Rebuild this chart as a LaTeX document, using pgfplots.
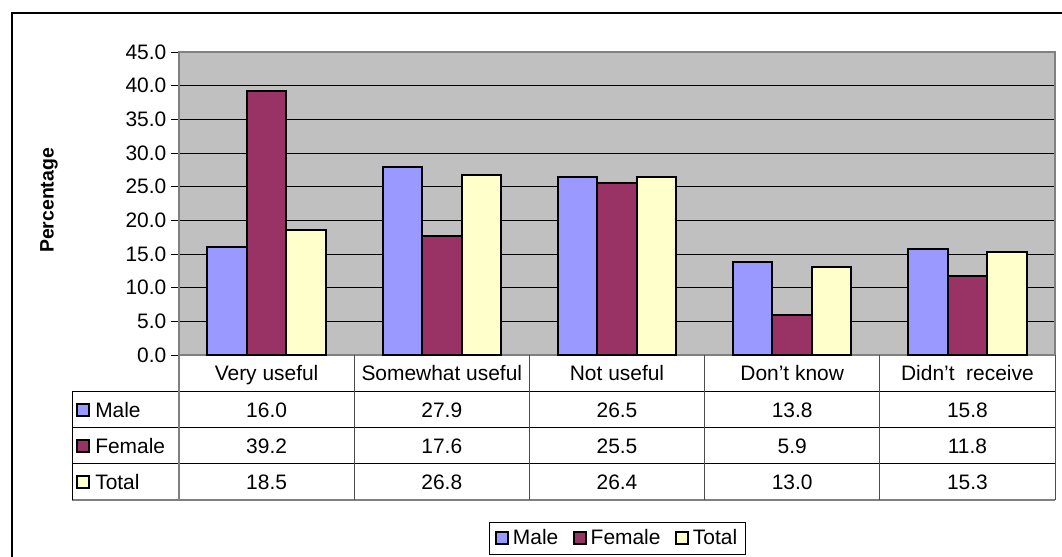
\documentclass[border=0pt]{standalone}
\usepackage{pgfplots}
\pgfplotsset{compat=1.18}
\usepackage{fontspec}
\setmainfont{Liberation Sans}
\definecolor{cMale}{HTML}{9999FF}
\definecolor{cFemale}{HTML}{993366}
\definecolor{cTotal}{HTML}{FFFFCC}
\definecolor{plotgray}{HTML}{C0C0C0}
\definecolor{edgegray}{HTML}{808080}
\begin{document}
\begin{tikzpicture}[x=0.75pt,y=0.75pt,font=\fontsize{15.7}{18}\selectfont]
\useasboundingbox (0,0) rectangle (1062,556);
% chart area frame
\draw[black, line width=0.9pt] (12,-20) -- (12,543) -- (1090,543);
\coordinate (org) at (179,201);
\begin{axis}[
  at={(org)}, anchor=south west,
  scale only axis, width=657pt, height=227.25pt,
  xmin=0, xmax=5, ymin=0, ymax=45,
  xtick=\empty,
  ytick={0,5,...,45}, ytick pos=left,
  tick align=outside, major tick length=6pt,
  tick style={black, line width=0.6pt},
  yticklabel style={/pgf/number format/.cd, fixed, fixed zerofill, precision=1, assume math mode=true},
  axis line style={edgegray, line width=1.5pt},
  axis background/.style={fill=plotgray},
  ymajorgrids, major grid style={black, line width=0.6pt},
  ylabel={Percentage},
  ylabel style={font=\fontsize{14.6}{17}\selectfont\bfseries, at={(axis description cs:-0.1485,0.51)}, anchor=center},
  ybar, bar width=29.6pt,
  clip=false,
  legend columns=3,
  legend style={at={(0.5006,-0.604)}, anchor=center, draw=black, line width=0.6pt,
    font=\fontsize{15.7}{18}\selectfont, inner xsep=4pt, inner ysep=3.5pt,
    /tikz/every odd column/.append style={column sep=1pt},
    /tikz/every even column/.append style={column sep=9pt}},
]
\addplot[fill=cMale, draw=black, line width=1.5pt, bar shift=-29.6pt,
  legend image code/.code={\draw[fill=cMale,draw=black,line width=1.3pt] (0pt,-4.5pt) rectangle (9pt,4.5pt);}]
  coordinates {(0.5,16.0) (1.5,27.9) (2.5,26.5) (3.5,13.8) (4.5,15.8)};
\addplot[fill=cFemale, draw=black, line width=1.5pt, bar shift=0pt,
  legend image code/.code={\draw[fill=cFemale,draw=black,line width=1.3pt] (0pt,-4.5pt) rectangle (9pt,4.5pt);}]
  coordinates {(0.5,39.2) (1.5,17.6) (2.5,25.5) (3.5,5.9) (4.5,11.8)};
\addplot[fill=cTotal, draw=black, line width=1.5pt, bar shift=29.6pt,
  legend image code/.code={\draw[fill=cTotal,draw=black,line width=1.3pt] (0pt,-4.5pt) rectangle (9pt,4.5pt);}]
  coordinates {(0.5,18.5) (1.5,26.8) (2.5,26.4) (3.5,13.0) (4.5,15.3)};
\legend{Male,Female,Total}
\end{axis}
% data table
\foreach \yy in {164,128,92} \draw[black, line width=0.75pt] (72,\yy) -- (1055,\yy);
\draw[edgegray, line width=1.2pt] (72,56) -- (1055,56);
\draw[black, line width=0.75pt] (72,164) -- (72,56);
\draw[edgegray, line width=1.5pt] (179,201) -- (179,56);
\foreach \xx in {354.2,529.4,704.6,879.8} \draw[black!70, line width=0.75pt] (\xx,201) -- (\xx,56);
\draw[black!70, line width=0.75pt] (1055,201) -- (1055,56);
% category names
\foreach \xx/\t in {266.6/Very useful, 441.8/Somewhat useful, 617/Not useful, 792.2/Don’t know, 967.4/Didn’t~ receive}
  \node[anchor=base, inner sep=0pt] at (\xx,175) {\t};
% values
\foreach \xx/\a/\b/\c in {266.6/16.0/39.2/18.5, 441.8/27.9/17.6/26.8, 617/26.5/25.5/26.4, 792.2/13.8/5.9/13.0, 967.4/15.8/11.8/15.3}{
  \node[anchor=base, inner sep=0pt] at (\xx,138.5) {\a};
  \node[anchor=base, inner sep=0pt] at (\xx,102.5) {\b};
  \node[anchor=base, inner sep=0pt] at (\xx,66.5) {\c};
}
% row headers
\foreach \yy/\col/\t in {146/cMale/Male, 110/cFemale/Female, 74/cTotal/Total}{
  \draw[fill=\col, draw=black, line width=1.3pt] (77,\yy-6) rectangle (89,\yy+6);
  \node[anchor=base west, inner sep=0pt] at (95,\yy-7.5) {\t};
}
\end{tikzpicture}
\end{document}
